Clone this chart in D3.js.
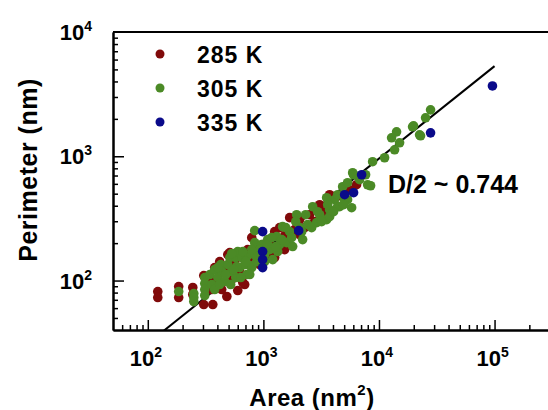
<!DOCTYPE html>
<html>
<head>
<meta charset="utf-8">
<script src="https://cdn.jsdelivr.net/npm/d3@7"></script>
<style>
  body { margin: 0; background: #fff; }
  text { font-family: "Liberation Sans", Arial, sans-serif; font-weight: bold; fill: #000; }
</style>
</head>
<body>
<div id="chart"></div>
<script>
// [area nm^2, perimeter nm]
const points285 = [
  [122, 81.6], [122, 73], [185, 89.5], [185, 73], [245, 87.9], [245, 77.2],
  [305, 109.7], [305, 64.1], [365, 64.1], [379, 127.1], [492, 161.8], [483, 74.4],
  [689, 92.9], [663, 96.4], [793, 221.5], [1068, 194.7], [1688, 320.6], [3742, 490.6],
  [6400, 590.4], [512, 168], [419, 142.1], [565, 142.1], [624, 118.1], [732, 177.5],
  [893, 184.3], [1133, 213.5], [1252, 247.5], [1383, 266.5], [2060, 309], [2513, 338.8],
  [3067, 407.6], [1252, 153], [1528, 177.5], [2060, 234.1], [929, 134.4], [532, 101.9],
  [436, 84.6], [358, 84.6], [600, 83.1], [762, 142.1], [985, 194.7], [1865, 256.8],
  [2776, 297.8], [4567, 481.6], [5573, 538.2], [3388, 358], [2275, 266.5], [1528, 229.8],
  [1133, 161.8], [379, 101.9], [463, 122.5], [344, 96.4], [3970, 472.7], [985, 184.3]
];
const points305 = [
  [185, 81.6], [250, 78.6], [250, 73], [250, 67.7], [311, 105.7], [311, 94.6], [311, 84.6],
  [311, 75.8], [344, 111.7], [358, 92.9], [379, 122.5], [403, 105.7], [428, 134.4],
  [436, 118.1], [463, 98.2], [492, 134.4], [512, 153], [532, 118.1], [577, 153], [577, 105.7],
  [600, 171.1], [624, 127.1], [650, 153], [689, 134.4], [718, 111.7], [732, 158.8],
  [762, 131.9], [793, 127.1], [841, 201.9], [841, 252.1], [841, 161.8], [876, 142.1],
  [2670, 392.9], [3525, 309], [1940, 338.8], [1467, 271.5], [1302, 225.6], [1590, 201.9],
  [2185, 213.5], [876, 155.9], [663, 171.1], [588, 129.5], [762, 111.7], [1204, 147.4],
  [4567, 392.9], [4850, 569], [3742, 371.6], [2890, 292.3], [1792, 187.7], [1133, 177.5],
  [966, 194.7], [1026, 161.8], [1383, 194.7], [1688, 247.5], [2060, 266.5], [2415, 281.6],
  [3067, 338.8], [4134, 447.3], [5045, 447.3], [1026, 142.1], [1330, 171.1], [1089, 213.5],
  [929, 177.5], [532, 165], [5350, 447.3], [14200, 1573], [15079, 1283], [13650, 1128],
  [22453, 1488], [19530, 1727], [11186, 973], [8810, 904], [5920, 737], [7980, 590],
  [5350, 612.5], [5800, 385.7], [3525, 464], [4390, 392.9], [3742, 326.6], [6800, 647.6],
  [12860, 1408], [27950, 2363], [25300, 2039], [19920, 1758], [22900, 1461], [7660, 710],
  [6030, 710], [8460, 579],
  [1089, 194.7], [1180, 221.5], [1277, 187.7], [1440, 213.5], [1560, 266.5], [1755, 221.5],
  [1905, 297.8], [2145, 247.5], [2320, 338.8], [2615, 266.5], [2945, 358], [3190, 297.8],
  [3600, 407.6], [4050, 358], [4390, 490.6], [4950, 407.6],
  [379, 84.6], [419, 92.9], [472, 111.7], [521, 92.9], [554, 122.5], [637, 105.7],
  [703, 142.1], [793, 177.5], [403, 127.1]
];
const points335 = [
  [985, 247.5], [985, 171.1], [985, 147.4], [985, 127.1], [2020, 252], [5045, 490.6],
  [6030, 509], [7080, 710], [27950, 1544], [95900, 3681]
];

const seriesNames = ["285 K", "305 K", "335 K"];
const seriesColors = ["#800a0a", "#4b8a26", "#0a0a8a"];

const fitExponent = 0.744;
const fitPrefactor = 1.012;
const fitAreaRange = [120, 100000];

const xMajor = [1e2, 1e3, 1e4, 1e5];
const yMajor = [1e2, 1e3, 1e4];

const W = 548, H = 410;
const plot = {left: 113, right: 548, top: 32, bottom: 330};

const svg = d3.select("#chart").append("svg")
  .attr("width", W)
  .attr("height", H);

const x = d3.scaleLog().domain([50, 290000]).range([plot.left, plot.right]);
const y = d3.scaleLog().domain([40, 10000]).range([plot.bottom, plot.top]);

// minor ticks 2..9 of every decade
function minors(scale) {
  const [a, b] = scale.domain();
  const out = [];
  for (let e = 0; e < 7; e++) {
    for (let m = 2; m <= 9; m++) {
      const v = m * Math.pow(10, e);
      if (v > a && v < b) out.push(v);
    }
  }
  return out;
}

svg.append("defs").append("clipPath").attr("id", "plotclip")
  .append("rect")
  .attr("x", plot.left).attr("y", plot.top)
  .attr("width", plot.right - plot.left).attr("height", plot.bottom - plot.top);

// fit line
const fitData = fitAreaRange.map(a => [a, fitPrefactor * Math.pow(a, fitExponent)]);
svg.append("path")
  .attr("clip-path", "url(#plotclip)")
  .attr("d", d3.line().x(d => x(d[0])).y(d => y(d[1]))(fitData))
  .attr("stroke", "#000")
  .attr("stroke-width", 2)
  .attr("fill", "none");

// points: 285 under 305 under 335
[points285, points305, points335].forEach((pts, i) => {
  svg.append("g")
    .attr("clip-path", "url(#plotclip)")
    .selectAll("circle")
    .data(pts)
    .enter()
    .append("circle")
    .attr("cx", d => x(d[0]))
    .attr("cy", d => y(d[1]))
    .attr("r", 4.8)
    .attr("fill", seriesColors[i]);
});

// axes with inward ticks
function styleAxis(g) {
  g.select(".domain").attr("stroke-width", 2);
  g.selectAll(".tick line").attr("stroke-width", 1.5);
  g.selectAll(".tick text").remove();
}

svg.append("g")
  .attr("transform", `translate(0,${plot.bottom})`)
  .call(d3.axisBottom(x).tickValues(minors(x)).tickSizeInner(-5).tickSizeOuter(0).tickFormat(""))
  .call(styleAxis);
svg.append("g")
  .attr("transform", `translate(0,${plot.bottom})`)
  .call(d3.axisBottom(x).tickValues(xMajor).tickSizeInner(-10).tickSizeOuter(0).tickFormat(""))
  .call(styleAxis);
svg.append("g")
  .attr("transform", `translate(${plot.left},0)`)
  .call(d3.axisLeft(y).tickValues(minors(y)).tickSizeInner(-5).tickSizeOuter(0).tickFormat(""))
  .call(styleAxis);
svg.append("g")
  .attr("transform", `translate(${plot.left},0)`)
  .call(d3.axisLeft(y).tickValues(yMajor.slice(0, 2)).tickSizeInner(-11).tickSizeOuter(0).tickFormat(""))
  .call(styleAxis);

// top frame line
svg.append("line")
  .attr("x1", plot.left).attr("x2", plot.right)
  .attr("y1", plot.top).attr("y2", plot.top)
  .attr("stroke", "#000").attr("stroke-width", 2);

function powerLabel(sel, v) {
  sel.append("tspan").text("10");
  sel.append("tspan")
    .attr("dy", -9)
    .style("font-size", "14px")
    .text(Math.round(Math.log10(v)));
}

xMajor.forEach(v => {
  svg.append("text")
    .attr("x", x(v) - 2)
    .attr("y", 366)
    .attr("text-anchor", "middle")
    .style("font-size", "22px")
    .call(powerLabel, v);
});

yMajor.forEach(v => {
  svg.append("text")
    .attr("x", 92)
    .attr("y", y(v) + 8)
    .attr("text-anchor", "end")
    .style("font-size", "22px")
    .call(powerLabel, v);
});

// axis titles
const xTitle = svg.append("text")
  .attr("x", 312)
  .attr("y", 406)
  .attr("text-anchor", "middle")
  .style("font-size", "24px")
  .style("letter-spacing", "0.5px");
xTitle.append("tspan").text("Area (nm");
xTitle.append("tspan").attr("dy", -11).style("font-size", "15px").text("2");
xTitle.append("tspan").attr("dy", 11).text(")");

svg.append("text")
  .attr("transform", "translate(37,170) rotate(-90)")
  .attr("text-anchor", "middle")
  .style("font-size", "25px")
  .style("letter-spacing", "0.5px")
  .text("Perimeter (nm)");

// legend
const legend = svg.selectAll(".legend")
  .data(seriesNames)
  .enter()
  .append("g")
  .attr("class", "legend")
  .attr("transform", (d, i) => `translate(160,${54 + i * 34})`);

legend.append("circle")
  .attr("r", 4.5)
  .attr("fill", (d, i) => seriesColors[i]);

legend.append("text")
  .attr("x", 37)
  .attr("y", 9)
  .style("font-size", "23px")
  .style("letter-spacing", "1px")
  .text(d => d);

svg.append("text")
  .attr("x", 388)
  .attr("y", 193)
  .style("font-size", "25px")
  .text("D/2 ~ " + fitExponent);
</script>
</body>
</html>
